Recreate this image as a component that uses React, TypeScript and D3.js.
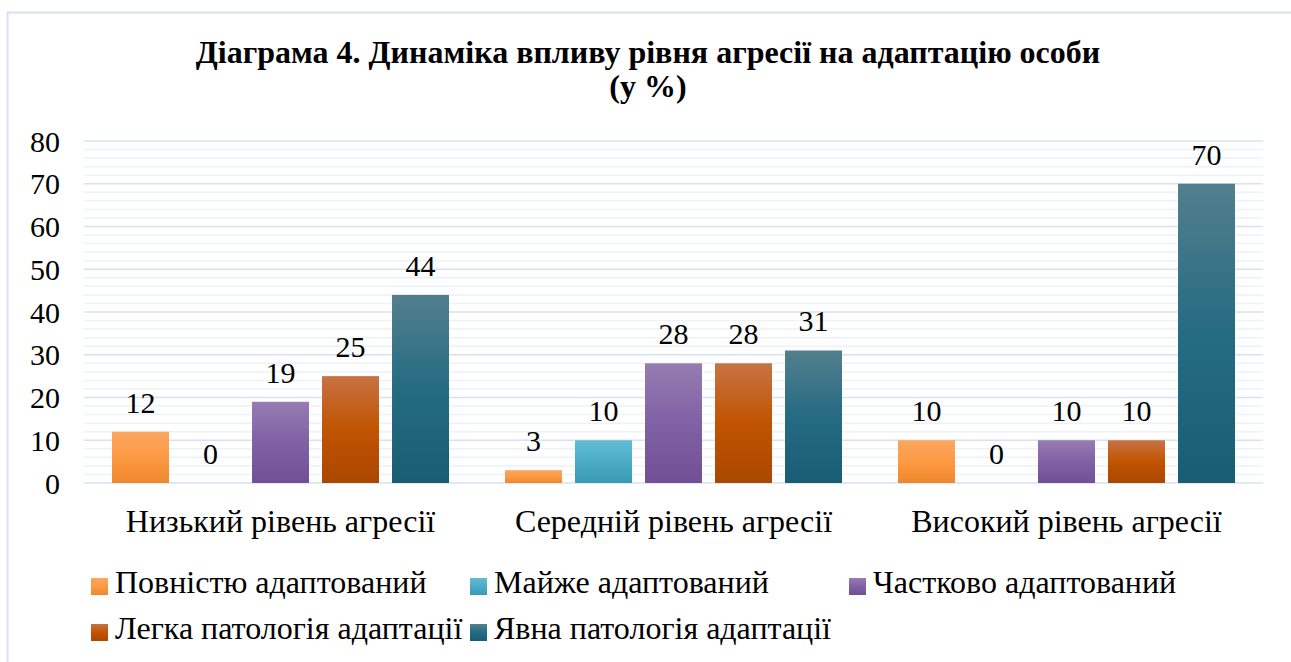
import React, { useEffect, useRef } from 'react';
import * as d3 from 'd3';

const categories = ['Низький рівень агресії', 'Середній рівень агресії', 'Високий рівень агресії'];
const seriesNames = [
  'Повністю адаптований',
  'Майже адаптований',
  'Частково адаптований',
  'Легка патологія адаптації',
  'Явна патологія адаптації',
];
const values = [
  [12, 3, 10],
  [0, 10, 0],
  [19, 28, 10],
  [25, 28, 10],
  [44, 31, 70],
];
const yTicks = [0, 10, 20, 30, 40, 50, 60, 70, 80];
// top / middle / bottom of each bar gradient
const colors = [
  ['#fba65f', '#fd9a45', '#ef872b'],
  ['#63bcd4', '#4bacc6', '#3a9ab5'],
  ['#967cb1', '#8061a5', '#724f96'],
  ['#c87244', '#c05400', '#ab4700'],
  ['#527f8e', '#256b81', '#195d75'],
];

const W = 1291;
const H = 662;
const serif = 'Liberation Serif, Times New Roman, serif';

export default function App() {
  const svgRef = useRef<SVGSVGElement>(null);

  useEffect(() => {
    if (!svgRef.current) return;
    const svg = d3.select(svgRef.current);
    svg.selectAll('*').remove();

    const left = 84, right = 1263, top = 141, bottom = 483;

    const defs = svg.append('defs');
    colors.forEach((c, i) => {
      const g = defs.append('linearGradient')
        .attr('id', `grad${i}`)
        .attr('x1', 0).attr('y1', 0).attr('x2', 0).attr('y2', 1);
      g.append('stop').attr('offset', '0%').attr('stop-color', c[0]);
      g.append('stop').attr('offset', '50%').attr('stop-color', c[1]);
      g.append('stop').attr('offset', '100%').attr('stop-color', c[2]);
    });

    svg.append('rect').attr('width', W).attr('height', H).attr('fill', '#fff');

    // outer chart border
    svg.append('rect')
      .attr('x', 7.5).attr('y', 12.5)
      .attr('width', W + 20).attr('height', H + 20)
      .attr('fill', 'none').attr('stroke', '#d5e2f3').attr('stroke-width', 2);

    const y = d3.scaleLinear().domain([0, 80]).range([bottom, top]);
    const x0 = d3.scaleBand().domain(categories).range([left, right]);
    const x1 = d3.scaleBand<number>()
      .domain(d3.range(seriesNames.length))
      .range([28, x0.bandwidth() - 28])
      .paddingInner(0.186);

    // minor gridlines
    const minor = d3.range(0, 81, 2).filter((v) => v % 10 !== 0);
    svg.append('g').selectAll('line').data(minor).join('line')
      .attr('x1', left).attr('x2', right)
      .attr('y1', (d) => y(d)).attr('y2', (d) => y(d))
      .attr('stroke', '#edf2f9').attr('stroke-width', 1.5);
    svg.append('g').selectAll('line').data(yTicks).join('line')
      .attr('x1', left).attr('x2', right)
      .attr('y1', (d) => y(d)).attr('y2', (d) => y(d))
      .attr('stroke', '#d6e2f2').attr('stroke-width', 1.5);

    // y tick labels
    svg.append('g').selectAll('text').data(yTicks).join('text')
      .attr('x', 60).attr('y', (d) => y(d))
      .attr('dy', '0.35em')
      .attr('text-anchor', 'end')
      .attr('font-family', serif).attr('font-size', 30)
      .attr('fill', '#000')
      .text((d) => d);

    // bars
    seriesNames.forEach((name, si) => {
      const g = svg.append('g');
      g.selectAll('rect').data(values[si]).join('rect')
        .attr('x', (d, ci) => (x0(categories[ci]) as number) + (x1(si) as number))
        .attr('y', (d) => y(d))
        .attr('width', x1.bandwidth())
        .attr('height', (d) => bottom - y(d))
        .attr('fill', `url(#grad${si})`);
      g.selectAll('text').data(values[si]).join('text')
        .attr('x', (d, ci) => (x0(categories[ci]) as number) + (x1(si) as number) + x1.bandwidth() / 2)
        .attr('y', (d) => y(d) - 19)
        .attr('text-anchor', 'middle')
        .attr('font-family', serif).attr('font-size', 30)
        .attr('fill', '#000')
        .text((d) => d);
    });

    // category labels
    svg.append('g').selectAll('text').data(categories).join('text')
      .attr('x', (d) => (x0(d) as number) + x0.bandwidth() / 2)
      .attr('y', 532)
      .attr('text-anchor', 'middle')
      .attr('font-family', serif).attr('font-size', 32)
      .attr('fill', '#000')
      .text((d) => d);

    // title
    const title = svg.append('text')
      .attr('text-anchor', 'middle')
      .attr('font-family', serif).attr('font-size', 32).attr('font-weight', 'bold')
      .attr('fill', '#000');
    title.append('tspan').attr('x', 648).attr('y', 63)
      .text('Діаграма 4. Динаміка впливу рівня агресії на адаптацію особи');
    title.append('tspan').attr('x', 648).attr('y', 97).text('(у %)');

    // legend
    const legendPos = [
      [91, 578], [470, 578], [849, 578],
      [91, 624], [470, 624],
    ];
    seriesNames.forEach((name, i) => {
      const [lx, ly] = legendPos[i];
      const g = svg.append('g').attr('transform', `translate(${lx},${ly})`);
      g.append('rect').attr('width', 17).attr('height', 17).attr('fill', `url(#grad${i})`);
      g.append('text')
        .attr('x', 24).attr('y', 15)
        .attr('font-family', serif).attr('font-size', 32)
        .attr('fill', '#000')
        .text(name);
    });
  }, []);

  return (
    <svg
      ref={svgRef}
      width={W}
      height={H}
      style={{ position: 'absolute', left: 0, top: 0, display: 'block' }}
    />
  );
}
